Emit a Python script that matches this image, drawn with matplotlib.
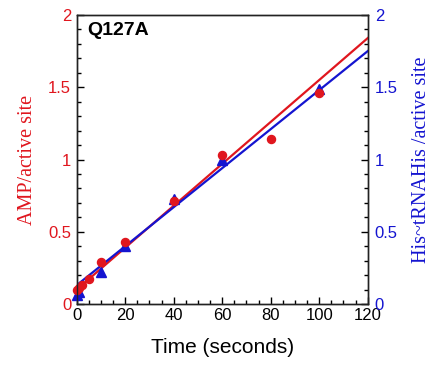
import numpy as np
import matplotlib
matplotlib.use("Agg")
import matplotlib.pyplot as plt
from matplotlib.ticker import MultipleLocator

# Data
amp_time = [0, 1, 2, 5, 10, 20, 40, 60, 80, 100]
amp_values = [0.10, 0.11, 0.13, 0.17, 0.29, 0.43, 0.71, 1.03, 1.14, 1.46]
his_time = [0, 1, 10, 20, 40, 60, 100]
his_values = [0.06, 0.08, 0.22, 0.40, 0.73, 1.00, 1.49]
# linear fit parameters (intercept, slope)
amp_fit = (0.10, 0.0145)
his_fit = (0.13, 0.0135)

RED = '#e0161e'
BLUE = '#1414d0'

fig = plt.figure(figsize=(4.3, 3.65), dpi=100)
ax = fig.add_axes([76.7/430, 1 - 304/365, 291/430, 289/365])
ax2 = ax.twinx()

xfit = np.array([0, 120])
ax.plot(xfit, amp_fit[0] + amp_fit[1] * xfit, color=RED, lw=1.6, zorder=3)
ax.plot(xfit, his_fit[0] + his_fit[1] * xfit, color=BLUE, lw=1.6, zorder=3)
ax.plot(his_time, his_values, '^', color=BLUE, ms=6.5, zorder=4, clip_on=False)
ax.plot(amp_time, amp_values, 'o', color=RED, ms=5.8, zorder=4, clip_on=False)

for a in (ax, ax2):
    a.set_xlim(0, 120)
    a.set_ylim(0, 2)
    a.yaxis.set_major_locator(MultipleLocator(0.5))
    a.yaxis.set_minor_locator(MultipleLocator(0.1))
    for s in a.spines.values():
        s.set_linewidth(1.0)
        s.set_color('#222222')

ax.xaxis.set_major_locator(MultipleLocator(20))
ax.xaxis.set_minor_locator(MultipleLocator(5))
ax.tick_params(axis='x', which='major', direction='in', length=5, width=1, labelsize=12, pad=3, top=False)
ax.tick_params(axis='x', which='minor', direction='in', length=3, width=1, top=False)
ax.tick_params(axis='y', which='major', direction='in', length=5, width=1, labelsize=12, labelcolor=RED, pad=4)
ax.tick_params(axis='y', which='minor', direction='in', length=3, width=1)
ax2.tick_params(axis='y', which='major', direction='in', length=5, width=1, labelsize=12, labelcolor=BLUE, pad=5)
ax2.tick_params(axis='y', which='minor', direction='in', length=3, width=1)

def fmt(v, pos):
    return ('%g' % v)
ax.yaxis.set_major_formatter(plt.FuncFormatter(fmt))
ax2.yaxis.set_major_formatter(plt.FuncFormatter(fmt))

for lab in ax.get_xticklabels() + ax.get_yticklabels() + ax2.get_yticklabels():
    lab.set_family('Liberation Sans')

ax.set_xlabel('Time (seconds)', fontsize=15, family='Liberation Sans', labelpad=11)
ax.set_ylabel('AMP/active site', fontsize=14.5, family='Liberation Serif', color=RED, labelpad=8)
ax2.set_ylabel('His~tRNAHis /active site', fontsize=14.5, family='Liberation Serif', color=BLUE, labelpad=10)

ax.text(0.035, 0.975, 'Q127A', transform=ax.transAxes, ha='left', va='top',
        fontsize=14, fontweight='bold', family='Liberation Sans')

fig.savefig('out.png', dpi=100)
